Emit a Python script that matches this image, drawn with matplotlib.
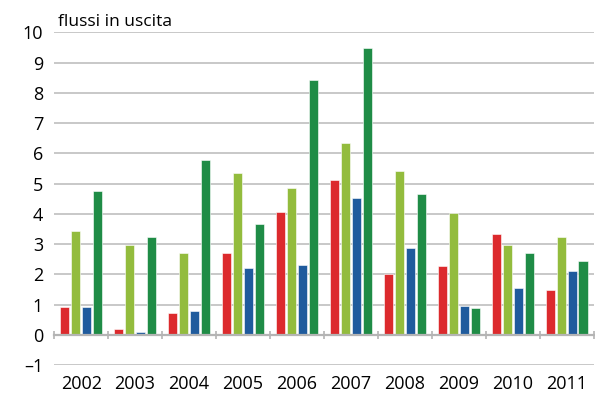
import matplotlib
matplotlib.use("Agg")
import matplotlib.pyplot as plt
import numpy as np

plt.rcParams['font.family'] = ['Open Sans', 'DejaVu Sans']

# Data
years = ['2002', '2003', '2004', '2005', '2006', '2007', '2008', '2009', '2010', '2011']
red = [0.92, 0.20, 0.72, 2.72, 4.07, 5.13, 2.00, 2.28, 3.32, 1.48]
light_green = [3.43, 2.96, 2.72, 5.35, 4.87, 6.35, 5.43, 4.03, 2.96, 3.23]
blue = [0.93, 0.11, 0.80, 2.20, 2.32, 4.52, 2.88, 0.97, 1.56, 2.12]
dark_green = [4.75, 3.24, 5.79, 3.67, 8.43, 9.49, 4.67, 0.89, 2.72, 2.45]
y_ticks = list(range(-1, 11))

series = [red, light_green, blue, dark_green]
colors = ['#dc2a2d', '#93bc3d', '#1f5b9d', '#1f8c46']

fig = plt.figure(figsize=(5.95, 3.94), dpi=100)
ax = fig.add_axes([0.091, 0.073, 0.907, 0.845])

x = np.arange(len(years))
step = 0.2
width = 0.168
for i, (vals, col) in enumerate(zip(series, colors)):
    ax.bar(x + (i - 1.5) * step, vals, width, color=col, edgecolor='white',
           linewidth=0.4, zorder=3)

ax.set_xlim(-0.5, len(years) - 0.5)
ax.set_ylim(-1, 10)
ax.set_yticks(y_ticks)
ax.set_yticklabels(['\u20131' if v < 0 else str(v) for v in y_ticks], fontsize=13)
ax.grid(axis='y', color='#c8c8c8', linewidth=1.4, zorder=0)
ax.tick_params(axis='y', length=0, pad=8)

# x axis at zero with category boundary ticks
for s in ['left', 'right', 'top']:
    ax.spines[s].set_visible(False)
ax.spines['bottom'].set_position(('data', 0))
ax.spines['bottom'].set_color('#b4b4b4')
ax.spines['bottom'].set_linewidth(1.6)
ax.spines['bottom'].set_zorder(4)
ax.set_xticks(x)
ax.set_xticklabels(years, fontsize=13)
ax.set_xticks(np.arange(-0.5, len(years)), minor=True)
ax.tick_params(axis='x', which='major', length=0, pad=29)
ax.tick_params(axis='x', which='minor', length=6, width=1.2, color='#b4b4b4',
               direction='inout')

fig.text(0.097, 0.925, 'flussi in uscita', fontsize=12.5, ha='left', va='bottom')

fig.savefig('out.png', dpi=100)
